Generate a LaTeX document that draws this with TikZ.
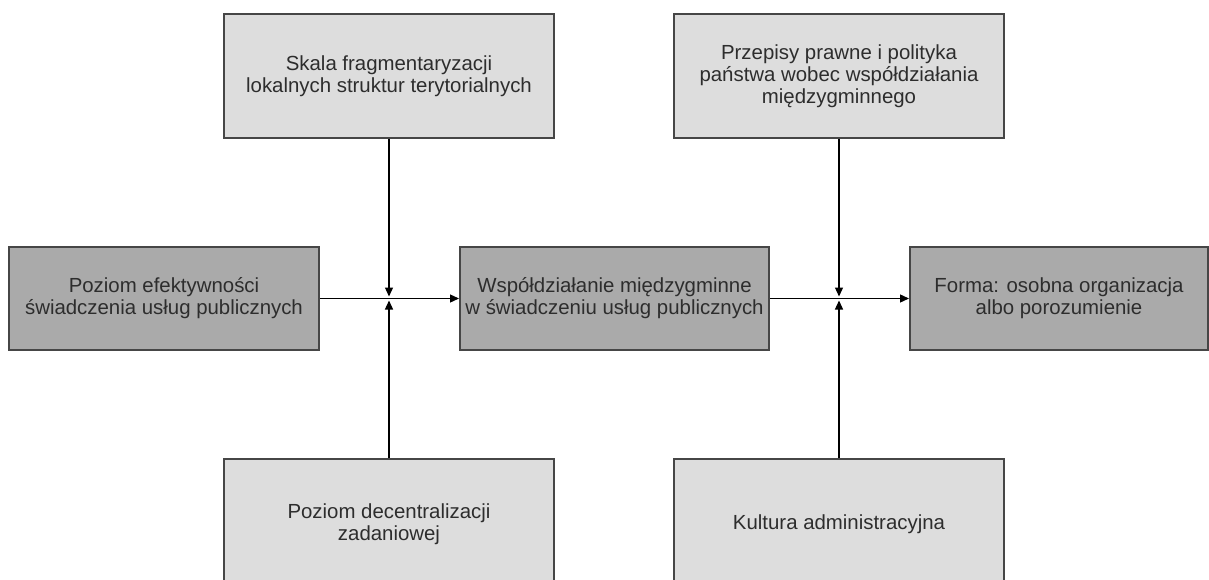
\documentclass[tikz,border=0pt]{standalone}
\usepackage{fontspec}
\setmainfont{Liberation Sans}
\usepackage{xcolor}
\usetikzlibrary{arrows.meta, positioning}

\definecolor{darkfill}{RGB}{170,170,170}
\definecolor{lightfill}{RGB}{221,221,221}
\definecolor{edge}{RGB}{70,70,70}
\definecolor{ink}{RGB}{45,45,45}

\begin{document}
\begin{tikzpicture}[
    x=0.5pt, y=0.5pt,
    every node/.style={font=\fontsize{10.2pt}{11pt}\selectfont, text=ink},
    box/.style={draw=edge, line width=1pt, align=center, inner sep=0pt},
    outer/.style={box, fill=lightfill, minimum width=165pt, minimum height=62pt},
    inner/.style={box, fill=darkfill, minimum height=51.5pt},
    arrow/.style={-{Triangle[length=4.5pt, width=4pt]}, line width=0.65pt}
]
    \useasboundingbox (0,0) rectangle (1209,579);

    \node[outer] (scale) at (389,503) {Skala fragmentaryzacji\\lokalnych struktur terytorialnych};
    \node[outer] (law) at (839,503) {Przepisy prawne i polityka\\państwa wobec współdziałania\\międzygminnego};
    \node[inner, minimum width=155pt] (efficiency) at (164,280.5) {Poziom efektywności\\świadczenia usług publicznych};
    \node[inner, minimum width=154.5pt] (coop) at (614.5,280.5) {Współdziałanie międzygminne\\w świadczeniu usług publicznych};
    \node[inner, minimum width=149pt] (form) at (1059,280.5) {Forma: osobna organizacja\\albo porozumienie};
    \node[outer, minimum height=65pt] (decentr) at (389,55) {Poziom decentralizacji\\zadaniowej};
    \node[outer, minimum height=65pt] (culture) at (839,55) {Kultura administracyjna};

    \coordinate (jl) at (389,280.5);
    \coordinate (jr) at (839,280.5);

    \draw[arrow] (efficiency) -- (coop);
    \draw[arrow] (coop) -- (form);
    \draw[arrow] (scale) -- ([yshift=1pt]jl);
    \draw[arrow] (decentr) -- ([yshift=-1pt]jl);
    \draw[arrow] (law) -- ([yshift=1pt]jr);
    \draw[arrow] (culture) -- ([yshift=-1pt]jr);
\end{tikzpicture}
\end{document}
